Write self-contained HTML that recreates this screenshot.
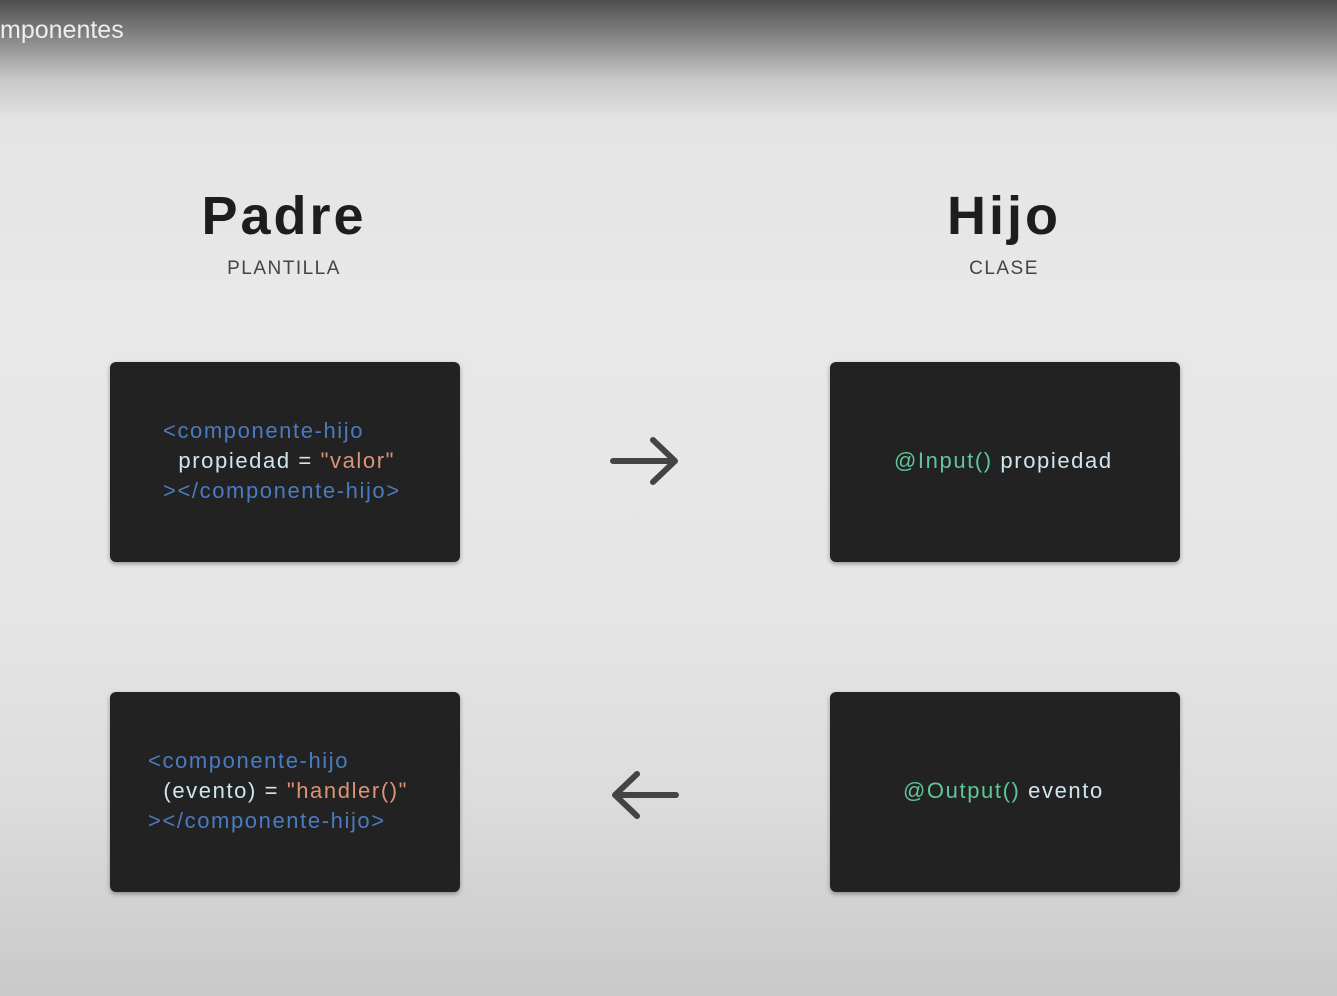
<!DOCTYPE html>
<html><head><meta charset="utf-8"><style>
body{margin:0;width:1337px;height:996px;overflow:hidden;position:relative;font-family:"Liberation Sans","DejaVu Sans",sans-serif;
background:linear-gradient(to bottom,#4e4e4e 0px,#8a8a8a 40px,#c8c8c8 80px,#e4e4e4 120px,#e8e8e8 300px,#e6e6e6 600px,#dcdcdc 800px,#c9c9c9 996px);}
.t{position:absolute;left:0;top:16px;color:#eee;font-size:25px;}
.h{position:absolute;width:300px;text-align:center;font-weight:bold;font-size:54px;color:#1d1d1d;top:185px;letter-spacing:3px}
.s{position:absolute;width:300px;text-align:center;font-size:19px;color:#444;top:258px;letter-spacing:1.5px}
.c{position:absolute;width:350px;height:200px;background:#222;border-radius:6px;box-shadow:0 2px 5px rgba(0,0,0,.35);}
.code{position:absolute;font-size:22px;line-height:30px;white-space:pre;letter-spacing:1.6px}
.b{color:#4a7bc0}.w{color:#cfe6f2}.o{color:#dd9377}.g{color:#5fc59a}
</style></head><body>
<div class="t">mponentes</div>
<div class="h" style="left:134px">Padre</div><div class="s" style="left:134px">PLANTILLA</div>
<div class="h" style="left:854px">Hijo</div><div class="s" style="left:854px">CLASE</div>
<div class="c" style="left:110px;top:362px"><div class="code" style="left:53px;top:54px"><span class="b">&lt;componente-hijo</span>
<span class="w">  propiedad = </span><span class="o">"valor"</span>
<span class="b">&gt;&lt;/componente-hijo&gt;</span></div></div>
<div class="c" style="left:830px;top:362px"><div class="code" style="left:64px;top:84px"><span class="g">@Input()</span><span class="w"> propiedad</span></div></div>
<div class="c" style="left:110px;top:692px"><div class="code" style="left:38px;top:54px"><span class="b">&lt;componente-hijo</span>
<span class="w">  (evento) = </span><span class="o">"handler()"</span>
<span class="b">&gt;&lt;/componente-hijo&gt;</span></div></div>
<div class="c" style="left:830px;top:692px"><div class="code" style="left:73px;top:84px"><span class="g">@Output()</span><span class="w"> evento</span></div></div>
<svg style="position:absolute;left:0;top:0" width="1337" height="996">
<g stroke="#444" stroke-width="6" fill="none" stroke-linecap="round" stroke-linejoin="round">
<path d="M613 461H675M653 440L675 461L653 482"/>
<path d="M676 795H615M637 774L615 795L637 816"/>
</g></svg>
</body></html>
